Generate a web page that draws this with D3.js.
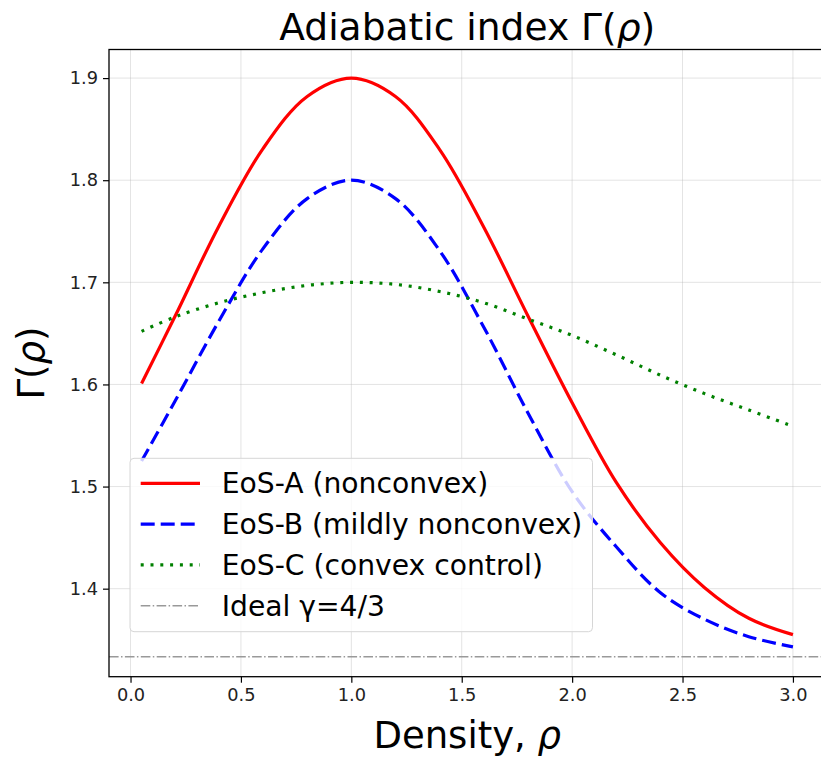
<!DOCTYPE html>
<html>
	<head>
		<meta charset="utf-8">
		<title>Adiabatic index</title>
	</head>
	<body>
		<svg id="chart" width="821" height="757"></svg>
	</body>

	<script src="https://cdn.jsdelivr.net/npm/d3@7"></script>
	<script>
		// values
		const rho    = [0.05, 0.2, 0.4, 0.6, 0.8, 1.0, 1.2, 1.4, 1.6, 1.8, 2.0, 2.2, 2.4, 2.6, 2.8, 3.0];
		const gammaA = [1.601, 1.666, 1.755, 1.831, 1.882, 1.900, 1.882, 1.830, 1.754, 1.667, 1.582, 1.504, 1.445, 1.401, 1.371, 1.355];
		const gammaB = [1.525, 1.583, 1.662, 1.733, 1.782, 1.800, 1.782, 1.731, 1.656, 1.572, 1.495, 1.441, 1.396, 1.370, 1.353, 1.343];
		const gammaC = [1.652, 1.666, 1.680, 1.690, 1.697, 1.700, 1.698, 1.691, 1.680, 1.664, 1.648, 1.629, 1.609, 1.591, 1.575, 1.559];
		const idealGamma = 4 / 3;

		const xTicks = [0, 0.5, 1.0, 1.5, 2.0, 2.5, 3.0];
		const yTicks = [1.4, 1.5, 1.6, 1.7, 1.8, 1.9];

		const labels = ["EoS-A (nonconvex)", "EoS-B (mildly nonconvex)", "EoS-C (convex control)", "Ideal γ=4/3"];

		const series = [
			{ name: labels[0], values: gammaA, color: "#ff0000", dash: null,    width: 3.2 },
			{ name: labels[1], values: gammaB, color: "#0000ff", dash: "14,6",  width: 3.2 },
			{ name: labels[2], values: gammaC, color: "#008000", dash: "3,6.8", width: 3.2 },
		];

		// plot box
		const pLeft = 109, pRight = 825.5, pTop = 49.5, pBottom = 676.7;

		const x = d3.scaleLinear().domain([-0.0975, 3.1475]).range([pLeft, pRight]);
		const y = d3.scaleLinear().domain([1.3138, 1.928]).range([pBottom, pTop]);

		const svg = d3.select("#chart")
			.style("font-family", "'DejaVu Sans', sans-serif")
			.style("background", "#fff");

		// grid
		const grid = svg.append("g").attr("class", "grid");
		grid.selectAll(".vg").data(xTicks).enter().append("line")
			.attr("x1", d => x(d)).attr("x2", d => x(d))
			.attr("y1", pTop).attr("y2", pBottom);
		grid.selectAll(".hg").data(yTicks).enter().append("line")
			.attr("x1", pLeft).attr("x2", pRight)
			.attr("y1", d => y(d)).attr("y2", d => y(d));

		// curves
		const line = d3.line()
			.x((d, i) => x(rho[i]))
			.y(d => y(d))
			.curve(d3.curveCatmullRom.alpha(0.5));

		svg.selectAll(".series").data(series).enter().append("path")
			.attr("class", "series")
			.attr("d", d => line(d.values))
			.attr("fill", "none")
			.attr("stroke", d => d.color)
			.attr("stroke-width", d => d.width)
			.attr("stroke-dasharray", d => d.dash);

		// ideal gas reference
		svg.append("line")
			.attr("x1", pLeft).attr("x2", pRight)
			.attr("y1", y(idealGamma)).attr("y2", y(idealGamma))
			.attr("stroke", "#999")
			.attr("stroke-width", 1.6)
			.attr("stroke-dasharray", "9.6,2.4,1.5,2.4");

		// axes
		const xAxis = d3.axisBottom(x).tickValues(xTicks).tickFormat(d3.format(".1f")).tickSize(6).tickPadding(6);
		const yAxis = d3.axisLeft(y).tickValues(yTicks).tickFormat(d3.format(".1f")).tickSize(6).tickPadding(5);

		svg.append("g").attr("class", "axis")
			.attr("transform", `translate(0,${pBottom})`)
			.call(xAxis);
		svg.append("g").attr("class", "axis")
			.attr("transform", `translate(${pLeft},0)`)
			.call(yAxis);

		svg.selectAll(".axis .domain").remove();

		// spines
		svg.append("rect")
			.attr("x", pLeft).attr("y", pTop)
			.attr("width", pRight - pLeft).attr("height", pBottom - pTop)
			.attr("fill", "none")
			.attr("stroke", "#000")
			.attr("stroke-width", 1.3);

		// legend
		const lg = svg.append("g").attr("transform", "translate(130,458.3)");
		lg.append("rect")
			.attr("width", 462.5).attr("height", 173.4)
			.attr("rx", 4)
			.attr("fill", "rgba(255,255,255,0.8)")
			.attr("stroke", "#d6d6d6")
			.attr("stroke-width", 1);

		const legendItems = series.concat([{ name: labels[3], color: "#999", dash: "9.6,2.4,1.5,2.4", width: 1.6 }]);
		const rowY = i => 25 + i * 40.8;

		lg.selectAll(".lh").data(legendItems).enter().append("line")
			.attr("x1", 10.7).attr("x2", 70)
			.attr("y1", (d, i) => rowY(i)).attr("y2", (d, i) => rowY(i))
			.attr("stroke", d => d.color)
			.attr("stroke-width", d => d.width)
			.attr("stroke-dasharray", d => d.dash);

		lg.selectAll(".lt").data(legendItems).enter().append("text")
			.attr("x", 91.7)
			.attr("y", (d, i) => rowY(i))
			.attr("dy", "0.36em")
			.attr("font-size", 28.2)
			.attr("fill", "#000")
			.text(d => d.name);

		// title and axis labels
		const title = svg.append("text")
			.attr("x", (pLeft + pRight) / 2).attr("y", 40)
			.attr("text-anchor", "middle")
			.attr("font-size", 37.6)
			.text("Adiabatic index Γ(");
		title.append("tspan").attr("font-style", "italic").text("ρ");
		title.append("tspan").text(")");

		const xl = svg.append("text")
			.attr("x", (pLeft + pRight) / 2).attr("y", 748)
			.attr("text-anchor", "middle")
			.attr("font-size", 37)
			.text("Density, ");
		xl.append("tspan").attr("font-style", "italic").text("ρ");

		const yl = svg.append("text")
			.attr("transform", `translate(44,${(pTop + pBottom) / 2}) rotate(-90)`)
			.attr("text-anchor", "middle")
			.attr("font-size", 37)
			.text("Γ(");
		yl.append("tspan").attr("font-style", "italic").text("ρ");
		yl.append("tspan").text(")");
	</script>

	<style>
		body
		{
			margin: 0;
			background: #fff;
		}

		.grid line
		{
			stroke: #b0b0b0;
			stroke-opacity: 0.35;
			stroke-width: 1;
		}

		.axis text
		{
			font-family: 'DejaVu Sans', sans-serif;
			font-size: 17.8px;
			fill: #222;
		}

		.axis line
		{
			stroke: #000;
			stroke-width: 1.2;
		}
	</style>
</html>
